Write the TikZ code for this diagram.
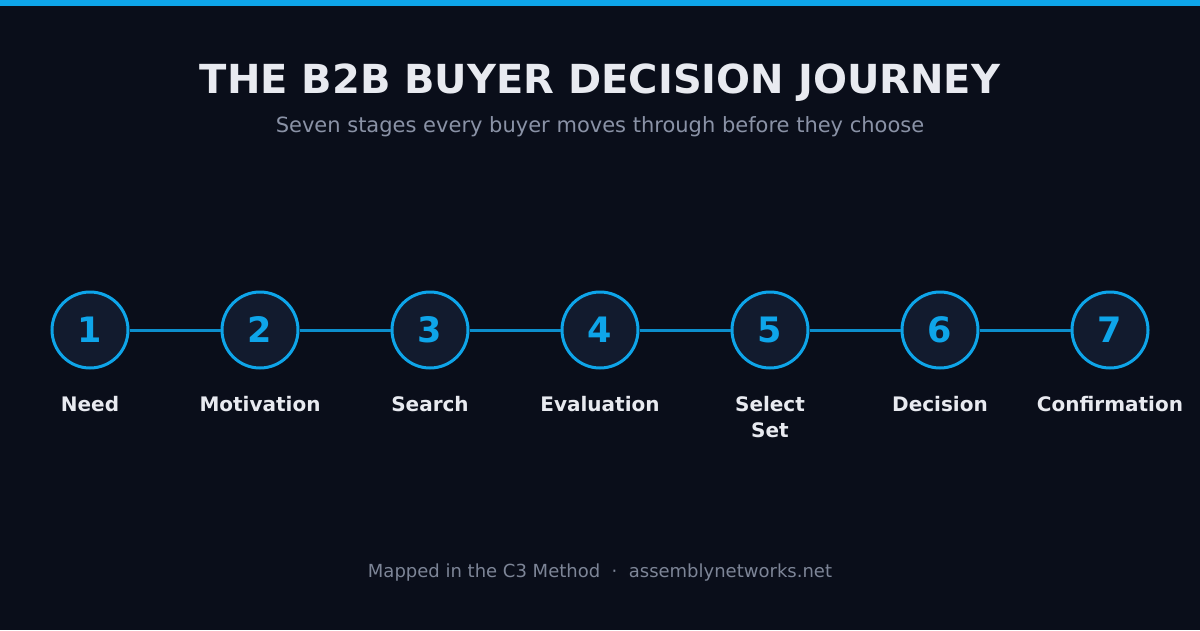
\documentclass[tikz,border=0pt]{standalone}
\usepackage{fontspec}
\setmainfont{DejaVu Sans}
\definecolor{bgdark}{HTML}{0A0E1A}
\definecolor{skyblue}{HTML}{0EA5E9}
\definecolor{linkblue}{HTML}{0C8ECC}
\definecolor{discfill}{HTML}{121B2E}
\definecolor{titlewhite}{HTML}{E8EAF0}
\definecolor{subgray}{HTML}{8A92A6}
\definecolor{footgray}{HTML}{7D8597}
\tikzset{
  stage/.style={circle, draw=skyblue, line width=3pt, fill=discfill, minimum size=76pt, inner sep=0pt,
    text=skyblue, font=\fontsize{35}{35}\selectfont\bfseries},
  stagelabel/.style={anchor=north, align=center, inner sep=0pt, text=titlewhite, font=\fontsize{20}{26}\selectfont\bfseries},
  link/.style={linkblue, line width=3pt}
}

\begin{document}
\begin{tikzpicture}[x=1pt, y=-1pt]

\fill[bgdark] (0, 0) rectangle (1200, 630);
\useasboundingbox (0, 0) rectangle (1200, 630);
\fill[skyblue] (0, 0) rectangle (1200, 6);

\node[anchor=base, text=titlewhite, font=\fontsize{40}{40}\selectfont\bfseries] (title) at (600, 93) {THE B2B BUYER DECISION JOURNEY};
\node[anchor=base, text=subgray, font=\fontsize{21}{21}\selectfont] (subtitle) at (600, 132) {Seven stages every buyer moves through before they choose};

% stage circles
\foreach \n/\name in {1/Need, 2/Motivation, 3/Search, 4/Evaluation, 5/{Select\\Set}, 6/Decision, 7/Confirmation}{
  \node[stage] (s\n) at ({90+170*(\n-1)}, 330) {\n};
  \node[stagelabel] (l\n) at ({90+170*(\n-1)}, 395.8) {\name};
}

% connectors
\foreach \a/\b in {1/2, 2/3, 3/4, 4/5, 5/6, 6/7}
  \draw[link] (s\a) -- (s\b);

\node[anchor=base, text=footgray, font=\fontsize{18}{18}\selectfont] (footer) at (600, 577) {Mapped in the C3 Method~~·~~assemblynetworks.net};

\end{tikzpicture}
\end{document}
